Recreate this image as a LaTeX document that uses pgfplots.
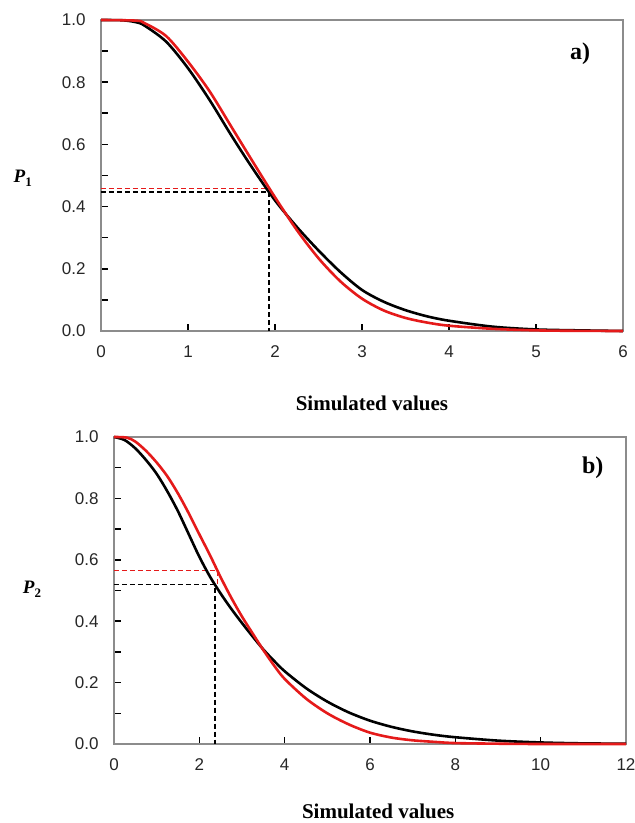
\documentclass[border=0pt]{standalone}
\usepackage{pgfplots}
\pgfplotsset{compat=1.18}
\usepackage{fontspec}
\setmainfont{Liberation Serif}
\setsansfont{Liberation Sans}
\definecolor{cred}{HTML}{E51A1A}
\definecolor{axgray}{HTML}{8C8C8C}
\pgfplotsset{
  myaxis/.style={
    scale only axis,
    anchor=south west,
    axis line style={axgray, line width=1.3pt},
    tick style={black, line width=1.6pt},
    major tick length=7pt, minor tick length=7pt,
    tick align=inside,
    xtick pos=bottom, ytick pos=left,
    ymin=0, ymax=1,
    ytick={0,0.2,...,1.0},
    minor ytick={0.1,0.3,0.5,0.7,0.9},
    /pgf/number format/assume math mode=true,
    ticklabel style={font=\sffamily\fontsize{17}{17}\selectfont, text=black!85},
    yticklabel style={/pgf/number format/fixed, /pgf/number format/fixed zerofill, /pgf/number format/precision=1, xshift=-12pt},
    xticklabel style={/pgf/number format/fixed, /pgf/number format/precision=0, yshift=-11pt},
    xlabel style={font=\bfseries\fontsize{21}{21}\selectfont},
    clip=false,
  },
  redc/.style={cred, line width=2.6pt, smooth},
  blkc/.style={black, line width=2.6pt, smooth},
  reddash/.style={cred, line width=1.3pt, dash pattern=on 5pt off 3pt},
  blkdash/.style={black, line width=1.3pt, dash pattern=on 5pt off 3pt},
}
\begin{document}
\begin{tikzpicture}
\useasboundingbox (0,0) rectangle (635pt,823pt);
% ---------- panel a ----------
\begin{axis}[myaxis,
  at={(101pt,492pt)}, width=522pt, height=311pt,
  xmin=0, xmax=6, xtick={0,1,...,6},
  xlabel={Simulated values},
  xlabel style={at={(axis description cs:0.519,-0.232)}, anchor=center},
]
\addplot[reddash] coordinates {(0,0.458) (1.93,0.458)};
\addplot[blkdash] coordinates {(0,0.447) (1.93,0.447) (1.93,0)};
\addplot[blkc] coordinates {
(0,1.0) (0.25,0.999) (0.4,0.993) (0.5,0.982) (0.75,0.93) (1.0,0.845)
(1.25,0.742) (1.5,0.628) (1.75,0.52) (2.0,0.42) (2.25,0.335)
(2.5,0.259) (2.75,0.19) (3.0,0.132) (3.25,0.094) (3.5,0.067) (3.75,0.047)
(4.0,0.033) (4.5,0.014) (5.0,0.005) (5.5,0.002) (6.0,0.0)};
\addplot[redc] coordinates {
(0,1.0) (0.4,0.998) (0.5,0.99) (0.75,0.948) (1.0,0.866) (1.25,0.77)
(1.5,0.656) (1.75,0.542) (2.0,0.43) (2.25,0.325) (2.5,0.234)
(2.75,0.16) (3.0,0.104) (3.25,0.066) (3.5,0.042) (3.75,0.027) (4.0,0.017)
(4.5,0.007) (5.0,0.002) (5.5,0.0005) (6.0,0.0)};
\node[font=\bfseries\fontsize{24}{24}\selectfont] at (rel axis cs:0.918,0.89) {a)};
\node[font=\bfseries\fontsize{19}{19}\selectfont] at (rel axis cs:-0.15,0.49)
  {\textit{P}\raisebox{-4pt}{\fontsize{13}{13}\selectfont 1}};
\end{axis}
% ---------- panel b ----------
\begin{axis}[myaxis,
  at={(114pt,79pt)}, width=512pt, height=307pt,
  xmin=0, xmax=12, xtick={0,2,...,12},
  xlabel={Simulated values},
  xlabel style={at={(axis description cs:0.516,-0.218)}, anchor=center},
]
\addplot[reddash] coordinates {(0,0.565) (2.42,0.565) (2.42,0.52)};
\addplot[blkdash] coordinates {(0,0.519) (2.37,0.519) (2.37,0)};
\addplot[blkc] coordinates {
(0,1.0) (0.25,0.99) (0.5,0.963) (0.75,0.925) (1.0,0.88) (1.25,0.823)
(1.5,0.758) (1.75,0.684) (2.0,0.61) (2.25,0.545) (2.5,0.49)
(2.75,0.44) (3.0,0.394) (3.25,0.35) (3.5,0.308) (3.75,0.271) (4.0,0.237)
(4.5,0.182) (5.0,0.138) (5.5,0.103) (6.0,0.076) (6.5,0.056) (7.0,0.041)
(7.5,0.03) (8.0,0.022) (9.0,0.011) (10.0,0.005) (11.0,0.002) (12.0,0.001)};
\addplot[redc] coordinates {
(0,1.0) (0.3,0.998) (0.5,0.985) (0.75,0.955) (1.0,0.917) (1.25,0.872)
(1.5,0.816) (1.75,0.752) (2.0,0.683) (2.25,0.615) (2.5,0.543)
(2.75,0.476) (3.0,0.415) (3.25,0.36) (3.5,0.306) (3.75,0.256) (4.0,0.212)
(4.5,0.148) (5.0,0.1) (5.5,0.064) (6.0,0.037) (6.5,0.021) (7.0,0.012)
(7.5,0.007) (8.0,0.003) (9.0,0.001) (10.0,0.0) (12.0,0.0)};
\node[font=\bfseries\fontsize{24}{24}\selectfont] at (rel axis cs:0.935,0.9) {b)};
\node[font=\bfseries\fontsize{19}{19}\selectfont] at (rel axis cs:-0.16,0.505)
  {\textit{P}\raisebox{-4pt}{\fontsize{13}{13}\selectfont 2}};
\end{axis}
\end{tikzpicture}
\end{document}
